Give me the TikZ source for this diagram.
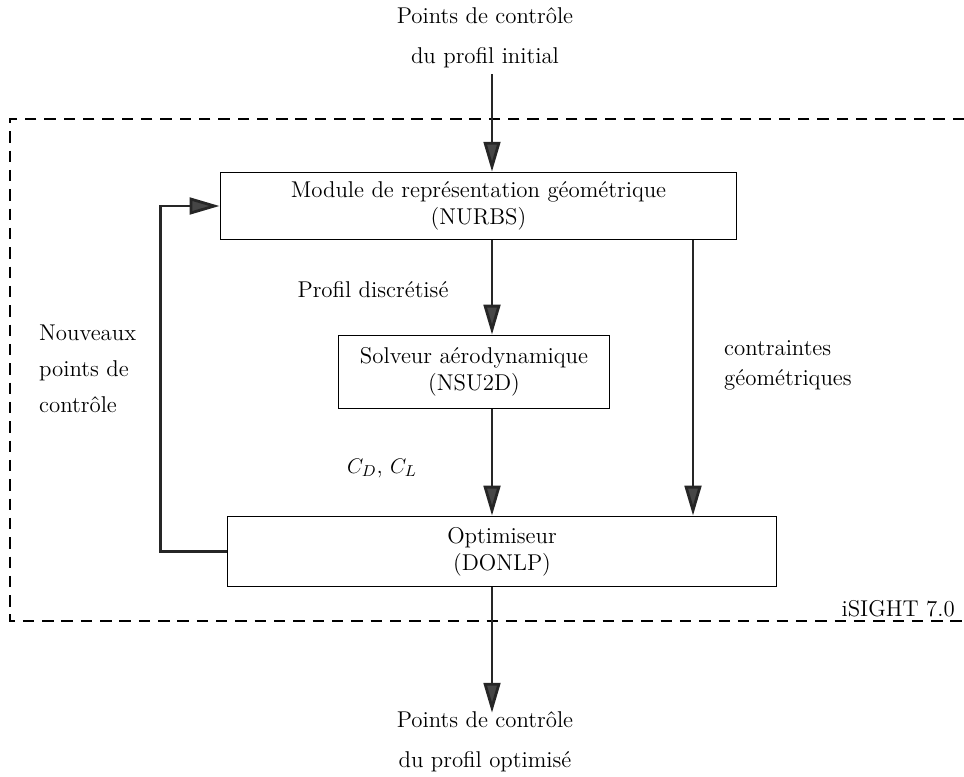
\documentclass[tikz,border=0pt]{standalone}
\usepackage{tikz}
\usetikzlibrary{arrows.meta}
\usepackage{amsmath}

\begin{document}
\begin{tikzpicture}[x=0.02cm,y=-0.02cm]
\tikzstyle{every node}=[font=\fontsize{13}{15.5}\selectfont]
\tikzstyle{bloc}=[rectangle,draw,line width=0.6pt,align=center,inner sep=0pt]
\tikzstyle{fleche}=[line width=1.6pt,draw=black!85,-{Triangle[length=17pt,width=9.5pt,fill=gray!55!black]}]
\tikzstyle{legende}=[align=left,anchor=west]
\useasboundingbox (0,0) rectangle (964,777);
% cadre iSIGHT
\draw[line width=1.1pt,dash pattern=on 6.5pt off 4.5pt] (964,119) -- (10,119) -- (10,621) -- (964,621);
\node[anchor=east] (isight) at (961,609) {iSIGHT 7.0};
% blocs
\node[bloc,minimum width=294.2pt,minimum height=38.5pt] (nurbs) at (478.5,206)
  {Module de repr\'esentation g\'eom\'etrique\\(NURBS)};
\node[bloc,minimum width=154.2pt,minimum height=42pt] (nsu) at (474,372)
  {Solveur a\'erodynamique\\(NSU2D)};
\node[bloc,minimum width=312.9pt,minimum height=40.3pt] (donlp) at (502,551.5)
  {Optimiseur\\(DONLP)};
% entree / sortie
\node[align=center,font=\fontsize{13}{22.7}\selectfont] (init) at (485,38)
  {Points de contr\^ole\\du profil initial};
\node[align=center,font=\fontsize{13}{22.7}\selectfont] (optim) at (485,742)
  {Points de contr\^ole\\du profil optimis\'e};
\coordinate (mx) at (492,0);
\coordinate (rx) at (693,0);
% legendes
\node (discr) at (373,290) {Profil discr\'etis\'e};
\node (coef) at (382,468) {$C_D$, $C_L$};
\node[legende,font=\fontsize{13}{20.4}\selectfont] (nouv) at (33,369) {Nouveaux\\points de\\contr\^ole};
\node[legende,font=\fontsize{13}{17}\selectfont] (contr) at (718,365) {contraintes\\g\'eom\'etriques};
% fleches
\draw[fleche] (init.south -| mx) -- (nurbs.north -| mx);
\draw[fleche] (nurbs.south -| mx) -- (nsu.north -| mx);
\draw[fleche] (nsu.south -| mx) -- (donlp.north -| mx);
\draw[fleche] (nurbs.south -| rx) -- (donlp.north -| rx);
\draw[fleche] (donlp.west) -- ++(-66,0) |- (nurbs.west);
\draw[fleche] (donlp.south -| mx) -- ([yshift=-4pt]optim.north -| mx);
\end{tikzpicture}
\end{document}
